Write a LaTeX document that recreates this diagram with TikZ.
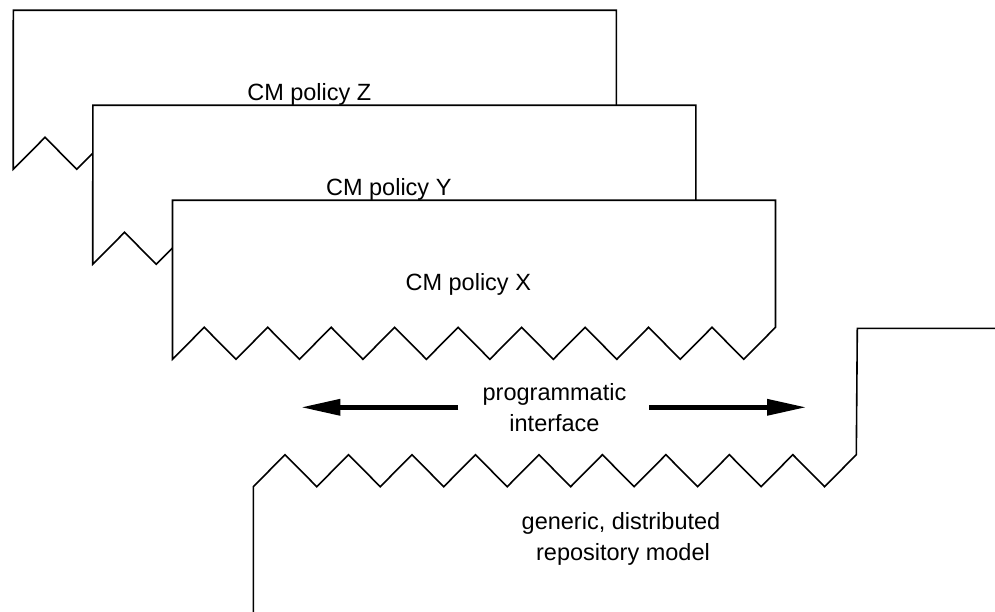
\documentclass[tikz,border=0pt]{standalone}
\usepackage{fontspec}
\setmainfont{Liberation Sans}
\usetikzlibrary{arrows.meta}

% geometry of a policy layer: width, height of the straight left side,
% tooth height and half tooth pitch
\newcommand{\LayW}{603}
\newcommand{\LayH}{159}
\newcommand{\Tooth}{32}
\newcommand{\HalfP}{31.737}

% a policy layer whose top-left corner is at (#1,#2)
\newcommand{\policylayer}[2]{%
  \filldraw[layer] (#1,#2) -- ++(\LayW,0) -- ++(0,\LayH-\Tooth)
    \foreach \i in {1,...,9}{ -- ++(-\HalfP,\Tooth) -- ++(-\HalfP,-\Tooth) }
    -- ++(-\HalfP,\Tooth) -- cycle;}

\begin{document}
\begin{tikzpicture}[x=1pt,y=-1pt,
  layer/.style={draw=black,fill=white,line width=1.6pt,line join=miter},
  label/.style={font=\fontsize{23.5}{30.6}\selectfont,inner sep=0pt,anchor=base},
  bigarrow/.style={line width=5pt,-{Triangle[length=38pt,width=17pt,line width=0pt]}}]
  \useasboundingbox (0,0) rectangle (995,612);

  % stacked policy layers, back to front
  \policylayer{13.3}{10.3}
  \node[label] (polz) at (309.3,100.3) {CM policy Z};
  \policylayer{92.8}{105.3}
  \node[label] (poly) at (388.8,195.3) {CM policy Y};
  \policylayer{172.5}{200.3}
  \node[label] (polx) at (468.3,290.3) {CM policy X};

  % interface text and arrows
  \node[label] (prog) at (554.5,400.7) {programmatic};
  \node[label] (intf) at (554.5,431.3) {interface};
  \coordinate (lstart) at (458.3,407.3);
  \coordinate (ltip) at (302.3,407.3);
  \coordinate (rstart) at (649,407.3);
  \coordinate (rtip) at (805,407.3);
  \draw[bigarrow] (lstart) -- (ltip);
  \draw[bigarrow] (rstart) -- (rtip);

  % repository layer
  \coordinate (repbot) at (253.3,612);
  \coordinate (repedge) at (995,328.3);
  \draw[line width=1.6pt,line join=miter] (repbot) -- (253.3,486.7)
    \foreach \i in {1,...,9}{ -- ++(\HalfP,-\Tooth) -- ++(\HalfP,\Tooth) }
    -- ++(\HalfP,-\Tooth) -- (857.3,328.3) -- (repedge);
  \node[label] (gen) at (621,529) {generic, distributed};
  \node[label] (repo) at (623,560) {repository model};
\end{tikzpicture}
\end{document}
